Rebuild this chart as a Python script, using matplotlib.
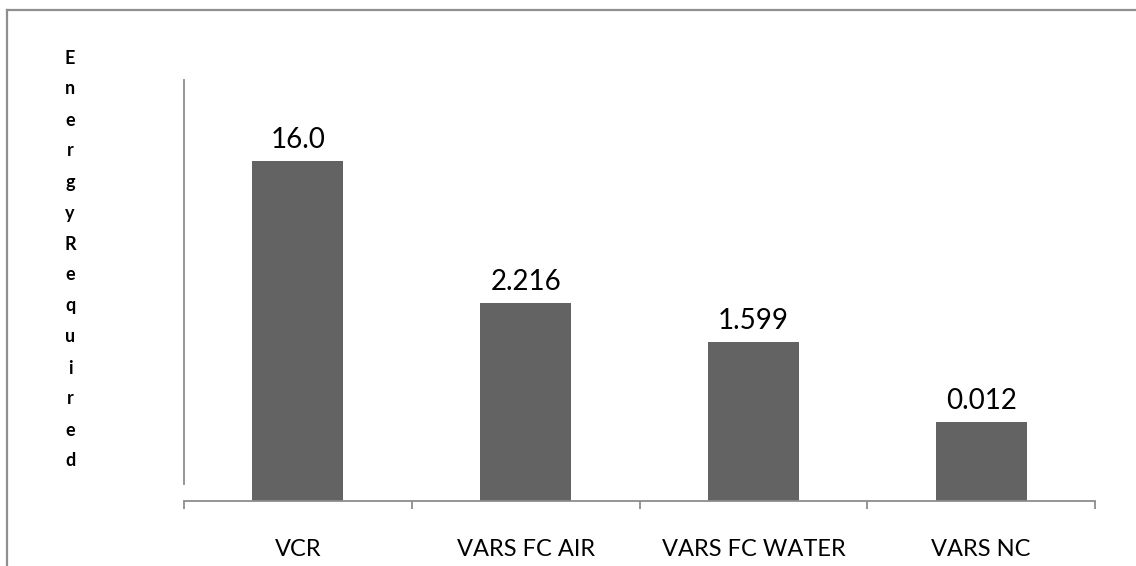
import matplotlib
matplotlib.use('Agg')
import matplotlib.pyplot as plt
from matplotlib.lines import Line2D
import numpy as np

# categories and the printed values (labels as shown in the chart)
categories = ['VCR', 'VARS FC AIR', 'VARS FC WATER', 'VARS NC']
value_labels = ['16.0', '2.216', '1.599', '0.012']
# drawn bar heights (the chart's axis is unlabelled, heights)
bar_heights = [340, 198, 159, 79]
ylabel_text = 'EnergyRequired'

plt.rcParams['font.family'] = ['Lato', 'DejaVu Sans']

W, H = 1136, 566
fig = plt.figure(figsize=(W / 100, H / 100), dpi=100)
fig.patch.set_facecolor('white')

# outer frame (top and left edges visible)
frame_col = '#8f8f8f'
fig.add_artist(Line2D([7 / W, 1.0], [1 - 10 / H, 1 - 10 / H], color=frame_col, lw=1.6))
fig.add_artist(Line2D([7 / W, 7 / W], [0.0, 1 - 10 / H], color=frame_col, lw=1.6))

ax = fig.add_axes([184 / W, (H - 501) / H, (1095 - 184) / W, (501 - 80) / H])
x = np.arange(len(categories))
bars = ax.bar(x, bar_heights, width=0.4, color='#636363')
ax.set_xlim(-0.5, len(categories) - 0.5)
ax.set_ylim(0, 421)

axis_col = '#8c8c8c'
for s in ['top', 'right']:
    ax.spines[s].set_visible(False)
ax.spines['bottom'].set_color(axis_col)
ax.spines['bottom'].set_linewidth(1.3)
ax.spines['left'].set_color(axis_col)
ax.spines['left'].set_linewidth(1.3)
ax.spines['left'].set_bounds(17, 421)

ax.set_yticks([])
ax.set_xticks(x)
ax.set_xticklabels(categories, fontsize=17)
ax.set_xticks(np.arange(-0.5, len(categories)), minor=True)
ax.tick_params(axis='x', which='major', length=0, pad=27, colors='black')
ax.tick_params(axis='x', which='minor', length=6, width=1.3, color=axis_col, direction='out')

for b, lab in zip(bars, value_labels):
    ax.annotate(lab, (b.get_x() + b.get_width() / 2, b.get_height()),
                xytext=(0, 6), textcoords='offset points',
                ha='center', va='bottom', fontsize=20)

# stacked vertical axis title
for i, ch in enumerate(ylabel_text):
    fig.text(70 / W, 1 - (58 + 31 * i) / H, ch, ha='center', va='center',
             fontsize=13, fontweight='bold')

fig.savefig('out.png', dpi=100)
